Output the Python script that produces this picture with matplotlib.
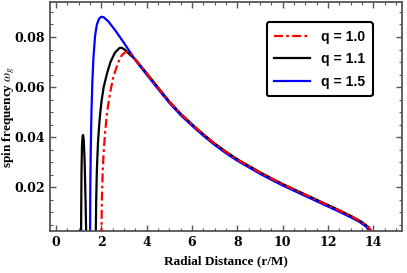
import matplotlib.pyplot as plt
import numpy as np
from matplotlib.ticker import MultipleLocator, AutoMinorLocator

# radial distance (r/M) and spin frequency for each q
r_q10 = [2.0, 2.02, 2.06, 2.10, 2.16, 2.25, 2.38, 2.50, 2.60, 2.75, 2.90, 3.05, 3.20, 3.35, 3.50,
         4.0, 4.5, 5.0, 5.5, 6.0, 6.5, 7.0, 7.5, 8.0, 8.5, 9.0, 9.5, 10.0, 10.5, 11.0, 11.5,
         12.0, 12.5, 13.0, 13.5, 13.8, 13.95, 14.0]
w_q10 = [0.0, 0.015, 0.027, 0.034, 0.0415, 0.050, 0.0575, 0.0630, 0.0661, 0.0700, 0.0727, 0.0739,
         0.0740, 0.0728, 0.0710,
         0.0654, 0.0597, 0.0541, 0.0492, 0.0450, 0.0410, 0.0373, 0.0340, 0.0310, 0.0284, 0.0258,
         0.0234, 0.0211, 0.0190, 0.0169, 0.0148, 0.0127, 0.0106, 0.0084, 0.0059, 0.0038, 0.0016, 0.0]

r_q11_lobe = [1.10, 1.12, 1.14, 1.17, 1.19, 1.22, 1.26, 1.30, 1.33]
w_q11_lobe = [0.0, 0.025, 0.036, 0.0405, 0.0408, 0.039, 0.030, 0.014, 0.0]

r_q11 = [1.75, 1.77, 1.80, 1.85, 1.92, 2.0, 2.1, 2.25, 2.4, 2.6, 2.8, 2.9, 3.05, 3.25, 3.5,
         4.0, 4.5, 5.0, 5.5, 6.0, 6.5, 7.0, 7.5, 8.0, 8.5, 9.0, 9.5, 10.0, 10.5, 11.0, 11.5,
         12.0, 12.5, 13.0, 13.5, 13.8, 13.95, 14.0]
w_q11 = [0.0, 0.015, 0.027, 0.038, 0.047, 0.054, 0.060, 0.0655, 0.0700, 0.0738, 0.0756, 0.0757,
         0.0748, 0.0730, 0.0710,
         0.0655, 0.0598, 0.0542, 0.0493, 0.0451, 0.0411, 0.0374, 0.0341, 0.0311, 0.0285, 0.0259,
         0.0235, 0.0212, 0.0191, 0.0170, 0.0149, 0.0128, 0.0107, 0.0085, 0.0060, 0.0039, 0.0017, 0.0]

r_q15 = [1.50, 1.51, 1.53, 1.56, 1.60, 1.65, 1.72, 1.80, 1.90, 2.00, 2.10, 2.30, 2.60, 3.0, 3.5,
         4.0, 4.5, 5.0, 5.5, 6.0, 6.5, 7.0, 7.5, 8.0, 8.5, 9.0, 9.5, 10.0, 10.5, 11.0, 11.5,
         12.0, 12.5, 13.0, 13.4, 13.7, 13.85, 13.9]
w_q15 = [0.0, 0.020, 0.035, 0.050, 0.062, 0.072, 0.0805, 0.0850, 0.0874, 0.0881, 0.0879, 0.0863,
         0.0828, 0.0776, 0.0707,
         0.0649, 0.0592, 0.0536, 0.0487, 0.0445, 0.0405, 0.0368, 0.0335, 0.0305, 0.0279, 0.0253,
         0.0229, 0.0206, 0.0185, 0.0164, 0.0143, 0.0122, 0.0101, 0.0079, 0.0060, 0.0040, 0.0020, 0.0]

plt.rcParams['mathtext.fontset'] = 'stix'

fig = plt.figure(figsize=(4.07, 2.73), dpi=100)
ax = fig.add_axes([50/407, 42/273, 352/407, 229/273])

ax.plot(r_q10, w_q10, color='red', lw=1.6, ls=(0, (4, 1.5, 1.2, 1.5)), label='q = 1.0', zorder=3)
ax.plot(r_q11_lobe, w_q11_lobe, color='black', lw=1.6)
ax.plot(r_q11, w_q11, color='black', lw=1.6, label='q = 1.1')
ax.plot(r_q15, w_q15, color='blue', lw=1.6, label='q = 1.5')

ax.set_xlim(-0.27, 15.27)
ax.set_ylim(0.0024, 0.0940)
ax.xaxis.set_major_locator(MultipleLocator(2))
ax.xaxis.set_minor_locator(AutoMinorLocator(4))
ax.yaxis.set_major_locator(MultipleLocator(0.02))
ax.yaxis.set_minor_locator(AutoMinorLocator(4))
ax.tick_params(which='both', direction='in', top=True, right=True, color='#555555')
ax.tick_params(which='major', length=4, width=1)
ax.tick_params(which='minor', length=2, width=0.8)
for s in ax.spines.values():
    s.set_color('#555555')
    s.set_linewidth(1.3)

for lab in ax.get_xticklabels() + ax.get_yticklabels():
    lab.set_family('DejaVu Serif')
    lab.set_fontweight('bold')
    lab.set_fontsize(9)

ax.set_xlabel('Radial Distance (r/M)', family='Liberation Serif', fontweight='bold', fontsize=9.5)
ax.xaxis.set_label_coords(0.5, -0.105)
ax.set_ylabel(r'spin frequency $\omega_g$', family='Liberation Serif', fontweight='bold', fontsize=9.5)
ax.yaxis.set_label_coords(-0.095, 0.5)

leg = ax.legend(loc='upper right', bbox_to_anchor=(0.918, 0.913), borderaxespad=0, frameon=True,
                fancybox=True, prop={'family': 'Liberation Sans', 'weight': 'bold', 'size': 10},
                handlelength=2.6, handletextpad=0.8, borderpad=0.55, labelspacing=0.62)
leg.get_frame().set_edgecolor('black')
leg.get_frame().set_linewidth(1.5)
leg.get_frame().set_alpha(1)

fig.savefig('out.png', dpi=100)
